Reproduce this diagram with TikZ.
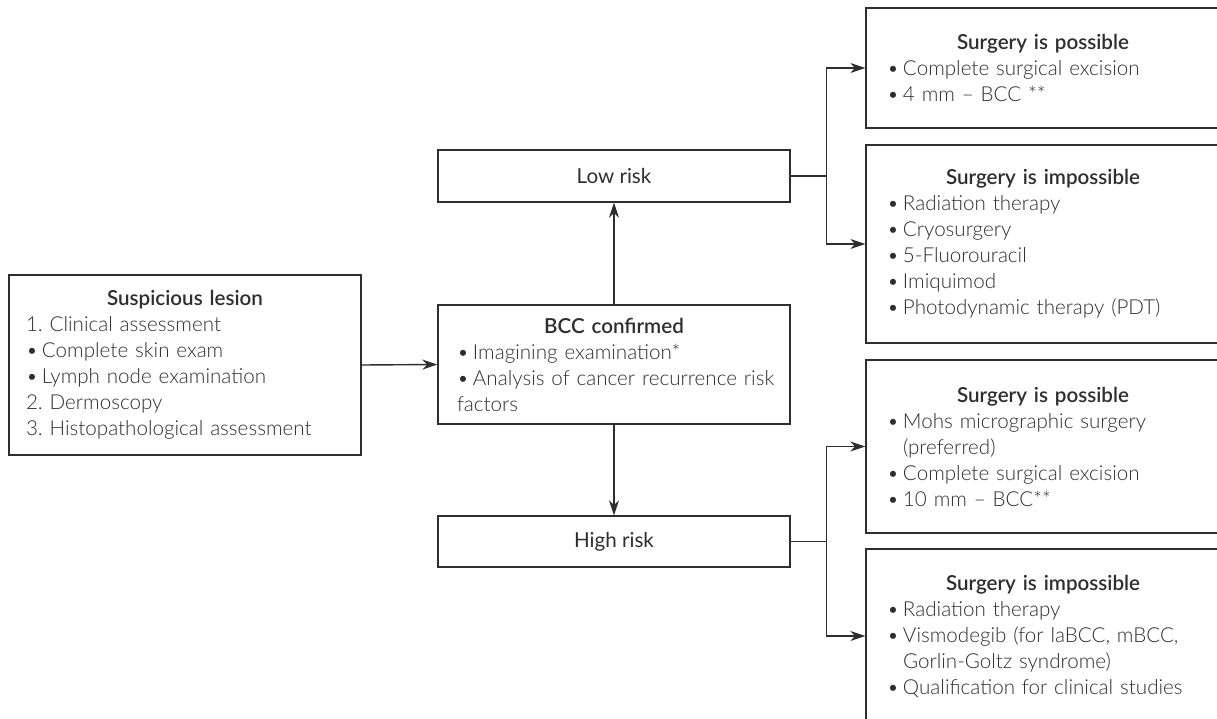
\documentclass[tikz,border=0pt]{standalone}
\usepackage{fontspec}
\setmainfont{Lato}
\newfontfamily\bodyfont{Lato Light}
\newfontfamily\titlefont{Lato Semibold}
\newfontfamily\regfont{Lato}
\usetikzlibrary{arrows.meta,calc}
\definecolor{ink}{HTML}{2E2E2E}
\frenchspacing
\hbadness=10000 \hfuzz=100pt
\newcommand{\btitle}[1]{{\centering\titlefont #1\par}}
\newcommand{\bitem}[1]{\par\noindent\hangindent=16pt\hangafter=1\makebox[16pt][l]{\textbullet}#1}
\newcommand{\pitem}[1]{\par\noindent #1}
\tikzset{
  box/.style={draw=ink, line width=1.4pt, rectangle, inner sep=0pt, text=ink,
    font=\bodyfont\fontsize{20.6}{26}\selectfont},
  plain/.style={box, font=\regfont\fontsize{20.6}{26}\selectfont},
  conn/.style={draw=ink, line width=1.4pt},
  arr/.style={conn, -{Stealth[length=15pt,width=10pt]}}
}
\begin{document}
\begin{tikzpicture}[x=1pt,y=-1pt]
\useasboundingbox (0,0) rectangle (1217,718);
\clip (0,0) rectangle (1217,718);
\fill[white] (0,0) rectangle (1217,718);
% left box
\node[box, minimum width=352, minimum height=180, text width=318] (susp) at (185,365)
 {\raggedright\btitle{Suspicious lesion}%
  \pitem{1. Clinical assessment}%
  \bitem{Complete skin exam}%
  \bitem{Lymph node examination}%
  \pitem{2. Dermoscopy}%
  \pitem{3. Histopathological assessment}};
% BCC confirmed
\node[box, minimum width=352, minimum height=119, text width=314] (bcc) at (614,364.5)
 {\raggedright\btitle{BCC confirmed}%
  \bitem{Imagining examination*}%
  \bitem{\mbox{Analysis of cancer recurrence risk}\newline factors}};
\node[plain, minimum width=352, minimum height=52] (low) at (614,176) {Low risk};
\node[plain, minimum width=352, minimum height=51] (high) at (614,541.5) {High risk};
% right boxes
\node[box, minimum width=354, minimum height=120, text width=312] (r1) at (1043,68)
 {\raggedright\btitle{Surgery is possible}%
  \bitem{Complete surgical excision}%
  \bitem{4 mm \textendash{} BCC **}};
\node[box, minimum width=354, minimum height=198, text width=312] (r2) at (1043,244)
 {\raggedright\btitle{Surgery is impossible}%
  \bitem{Radiation therapy}%
  \bitem{Cryosurgery}%
  \bitem{5-Fluorouracil}%
  \bitem{Imiquimod}%
  \bitem{Photodynamic therapy (PDT)}};
\node[box, minimum width=354, minimum height=173, text width=312] (r3) at (1043,446.5)
 {\raggedright\btitle{Surgery is possible}%
  \bitem{Mohs micrographic surgery\newline (preferred)}%
  \bitem{Complete surgical excision}%
  \bitem{10 mm \textendash{} BCC**}};
\node[box, minimum width=354, minimum height=174, text width=312] (r4) at (1043,636)
 {\raggedright\btitle{Surgery is impossible}%
  \bitem{Radiation therapy}%
  \bitem{Vismodegib (for laBCC, mBCC,\newline Gorlin-Goltz syndrome)}%
  \bitem{Qualification for clinical studies}};
% connectors
\draw[arr] (susp.east) -- (bcc.west);
\draw[arr] (bcc.north) -- (low.south);
\draw[arr] (bcc.south) -- (high.north);
\coordinate (j1) at ($(low.east)+(36,0)$);
\coordinate (j2) at ($(high.east)+(36,0)$);
\draw[conn] (low.east) -- (j1);
\draw[arr] (j1) |- (r1.west);
\draw[arr] (j1) |- (r2.west);
\draw[conn] (high.east) -- (j2);
\draw[arr] (j2) |- (r3.west);
\draw[arr] (j2) |- (r4.west);
\end{tikzpicture}
\end{document}
